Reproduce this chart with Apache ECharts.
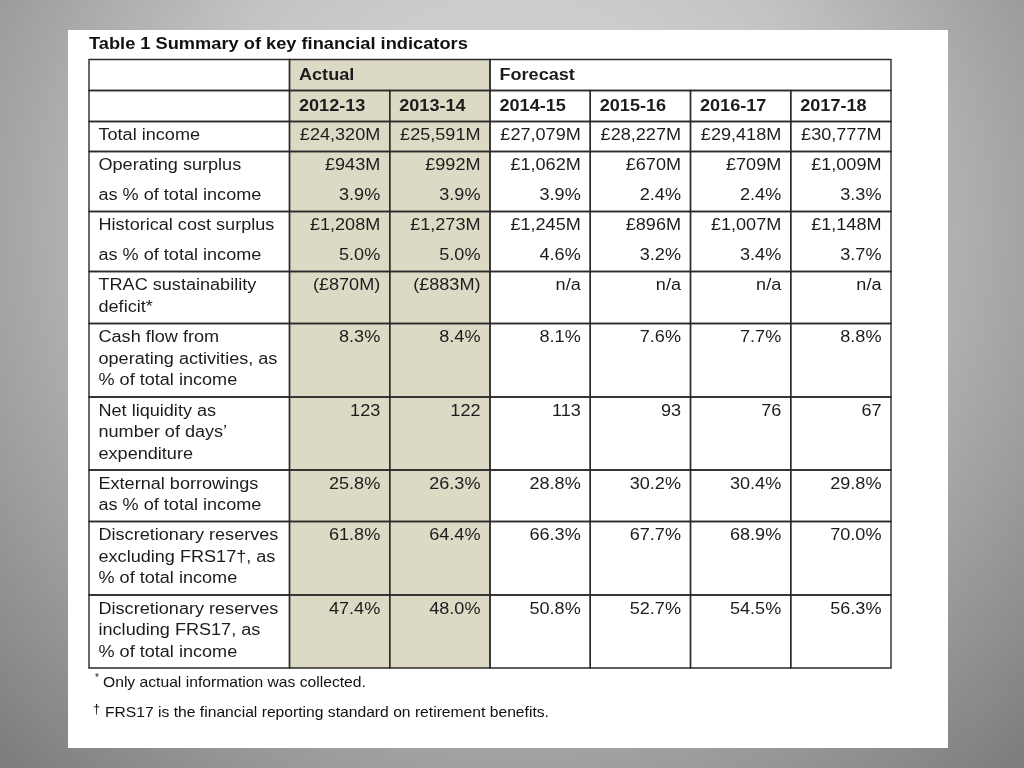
<!DOCTYPE html>
<html>
<head>
<meta charset="utf-8">
<script src="https://cdn.jsdelivr.net/npm/echarts@6/dist/echarts.min.js"></script>
<style>
  html, body { margin: 0; padding: 0; }
  #main { width: 1024px; height: 768px; }
</style>
</head>
<body>
<div id="main"></div>
<script>
// 数据
const groups = ['Actual', 'Forecast'];
const years = ['2012-13', '2013-14', '2014-15', '2015-16', '2016-17', '2017-18'];
const indicators = [
    'Total income',
    'Operating surplus\nas % of total income',
    'Historical cost surplus\nas % of total income',
    'TRAC sustainability\ndeficit*',
    'Cash flow from\noperating activities, as\n% of total income',
    'Net liquidity as\nnumber of days\u2019\nexpenditure',
    'External borrowings\nas % of total income',
    'Discretionary reserves\nexcluding FRS17\u2020, as\n% of total income',
    'Discretionary reserves\nincluding FRS17, as\n% of total income'
];
const totalIncome = ['£24,320M', '£25,591M', '£27,079M', '£28,227M', '£29,418M', '£30,777M'];
const operatingSurplus = ['£943M', '£992M', '£1,062M', '£670M', '£709M', '£1,009M'];
const operatingSurplusPct = ['3.9%', '3.9%', '3.9%', '2.4%', '2.4%', '3.3%'];
const historicalSurplus = ['£1,208M', '£1,273M', '£1,245M', '£896M', '£1,007M', '£1,148M'];
const historicalSurplusPct = ['5.0%', '5.0%', '4.6%', '3.2%', '3.4%', '3.7%'];
const tracDeficit = ['(£870M)', '(£883M)', 'n/a', 'n/a', 'n/a', 'n/a'];
const cashFlowPct = ['8.3%', '8.4%', '8.1%', '7.6%', '7.7%', '8.8%'];
const netLiquidityDays = ['123', '122', '113', '93', '76', '67'];
const externalBorrowingsPct = ['25.8%', '26.3%', '28.8%', '30.2%', '30.4%', '29.8%'];
const reservesExclPct = ['61.8%', '64.4%', '66.3%', '67.7%', '68.9%', '70.0%'];
const reservesInclPct = ['47.4%', '48.0%', '50.8%', '52.7%', '54.5%', '56.3%'];
const titleText = 'Table 1 Summary of key financial indicators';
const footnotes = ['Only actual information was collected.', 'FRS17 is the financial reporting standard on retirement benefits.'];

// 每行的数值（成对的行合并成一个单元格）
const rowValues = [
    totalIncome,
    operatingSurplus.map((v, i) => v + '\n' + operatingSurplusPct[i]),
    historicalSurplus.map((v, i) => v + '\n' + historicalSurplusPct[i]),
    tracDeficit,
    cashFlowPct,
    netLiquidityDays,
    externalBorrowingsPct,
    reservesExclPct,
    reservesInclPct
];

// 版式
const rowHeights = [31, 31, 30, 60, 60, 52, 73.5, 73, 51.5, 73.5, 73];
const pairedRows = [3, 4];
const shade = '#dcd9c5';
const font = '"Liberation Sans", Arial, sans-serif';
const stretch = 1.13; // 原图文字略宽

const rowTop = [0];
rowHeights.forEach((h, i) => rowTop.push(rowTop[i] + h));

// 单元格：[x0, x1, y0, y1]
const cells = [];
function addCell(x0, x1, r, text, opts) {
    cells.push(Object.assign({
        value: [x0, x1, rowTop[r], rowTop[r + 1]],
        text: text, row: r, fill: x0 >= 2 && x0 < 4 ? shade : '#fff',
        align: 'left', bold: false, lh: 21.5
    }, opts || {}));
}
addCell(0, 2, 0, '');
addCell(2, 4, 0, groups[0], { bold: true });
addCell(4, 8, 0, groups[1], { bold: true });
addCell(0, 2, 1, '');
years.forEach((y, i) => addCell(2 + i, 3 + i, 1, y, { bold: true }));
indicators.forEach((label, k) => {
    const r = k + 2;
    const lh = pairedRows.includes(r) ? 30 : 21.5;
    addCell(0, 2, r, label, { lh: lh });
    rowValues[k].forEach((v, i) => addCell(2 + i, 3 + i, r, v, { align: 'right', lh: lh }));
});

const chart = echarts.init(document.getElementById('main'));

chart.setOption({
    backgroundColor: {
        type: 'radial', x: 0.5, y: 0.3, r: 0.95,
        colorStops: [
            { offset: 0, color: '#dedede' },
            { offset: 0.45, color: '#c4c4c4' },
            { offset: 1, color: '#7e7e7e' }
        ]
    },
    animation: false,
    graphic: [{
        type: 'rect', z: -10, silent: true,
        shape: { x: 68, y: 30, width: 880, height: 718 },
        style: { fill: '#fff' }
    }, {
        type: 'text', x: 89, y: 44.5, scaleX: 1.14, silent: true,
        style: { text: titleText, font: 'bold 16px ' + font, fill: '#111', verticalAlign: 'middle' }
    }, {
        type: 'text', x: 95, y: 678, silent: true,
        style: { text: '*', font: '10px ' + font, fill: '#111', verticalAlign: 'middle' }
    }, {
        type: 'text', x: 103, y: 683, scaleX: 1.08, silent: true,
        style: { text: footnotes[0], font: '14.5px ' + font, fill: '#111', verticalAlign: 'middle' }
    }, {
        type: 'text', x: 93, y: 709, silent: true,
        style: { text: '\u2020', font: '13px ' + font, fill: '#111', verticalAlign: 'middle' }
    }, {
        type: 'text', x: 105, y: 713, scaleX: 1.08, silent: true,
        style: { text: footnotes[1], font: '14.5px ' + font, fill: '#111', verticalAlign: 'middle' }
    }],
    grid: { left: 89, top: 59.5, width: 802, height: 608.5 },
    xAxis: { type: 'value', min: 0, max: 8, show: false },
    yAxis: { type: 'value', min: 0, max: rowTop[rowTop.length - 1], inverse: true, show: false },
    series: [{
        type: 'custom',
        coordinateSystem: 'cartesian2d',
        data: cells.map(c => c.value),
        renderItem: (params, api) => {
            const c = cells[params.dataIndex];
            const p0 = api.coord([api.value(0), api.value(2)]);
            const p1 = api.coord([api.value(1), api.value(3)]);
            const firstMid = c.row < 2 ? 16 : 14.5;
            return {
                type: 'group',
                children: [{
                    type: 'rect',
                    shape: { x: p0[0], y: p0[1], width: p1[0] - p0[0], height: p1[1] - p0[1] },
                    style: { fill: c.fill }
                }, {
                    type: 'text',
                    x: c.align === 'right' ? p1[0] - 9.5 : p0[0] + 9.5,
                    y: p0[1] + firstMid - c.lh / 2,
                    scaleX: stretch,
                    style: {
                        text: c.text, fill: '#1c1c1c', align: c.align, verticalAlign: 'top',
                        lineHeight: c.lh,
                        font: (c.bold ? 'bold ' : '') + '16px ' + font
                    }
                }]
            };
        }
    }, {
        type: 'custom',
        coordinateSystem: 'cartesian2d',
        z: 5,
        data: cells.map(c => c.value),
        renderItem: (params, api) => {
            const p0 = api.coord([api.value(0), api.value(2)]);
            const p1 = api.coord([api.value(1), api.value(3)]);
            return {
                type: 'rect',
                shape: { x: p0[0], y: p0[1], width: p1[0] - p0[0], height: p1[1] - p0[1] },
                style: { fill: null, stroke: '#2a2a2a', lineWidth: 1.4 }
            };
        }
    }]
});

window.addEventListener('resize', () => chart.resize());
</script>
</body>
</html>
